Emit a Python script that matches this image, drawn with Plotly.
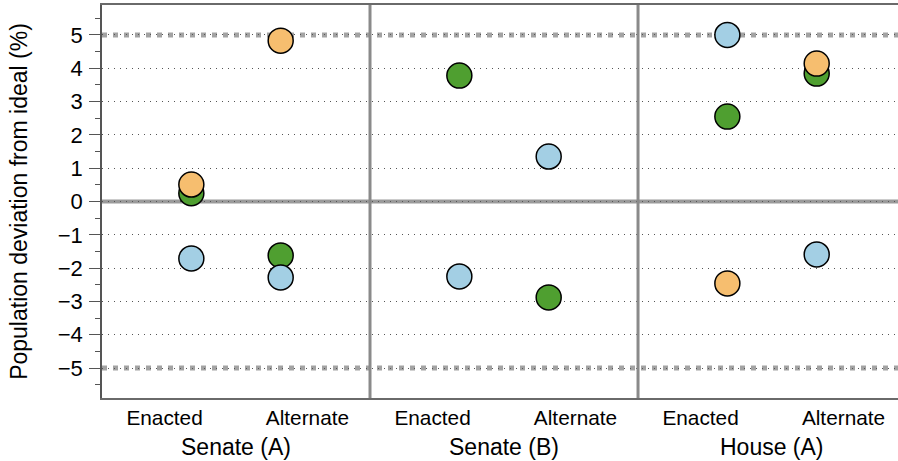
import plotly.graph_objects as go

# ---- data ----
groups = ["Senate (A)", "Senate (B)", "House (A)"]
plans = ["Enacted", "Alternate"]
# x slots: each group spans 3 units; Enacted at 1, Alternate at 2 within group
slot_x = [1, 2, 4, 5, 7, 8]
slot_labels = ["Enacted", "Alternate", "Enacted", "Alternate", "Enacted", "Alternate"]
group_bounds = [3, 6]

# series values (population deviation, %), one per slot (None = absent)
green_vals = [0.25, -1.62, 3.78, -2.88, 2.55, 3.84]
blue_vals = [-1.71, -2.28, -2.25, 1.35, 5.0, -1.59]
orange_vals = [0.51, 4.83, None, None, -2.46, 4.14]

y_ticks = [-5, -4, -3, -2, -1, 0, 1, 2, 3, 4, 5]
limit_lines = [-5, 5]
ideal_line = [0]

# layout: label positions are spread out from the marker columns
label_spread = 0.3
label_x = [x - label_spread if i % 2 == 0 else x + label_spread for i, x in enumerate(slot_x)]
group_centers = [(slot_x[2 * i] + slot_x[2 * i + 1]) / 2 for i in range(len(groups))]

colors = {"green": "#4F9F30", "blue": "#A3CFE4", "orange": "#F6BE6F"}
FONT = "Liberation Sans, Arial, Helvetica, sans-serif"

fig = go.Figure()


def add_series(vals, color):
    xs = [x for x, v in zip(slot_x, vals) if v is not None]
    ys = [v for v in vals if v is not None]
    fig.add_trace(go.Scatter(
        x=xs, y=ys, mode="markers", showlegend=False, hoverinfo="skip",
        marker=dict(size=25, color=color, line=dict(color="black", width=1.5)),
        cliponaxis=False,
    ))


add_series(green_vals, colors["green"])
add_series(blue_vals, colors["blue"])
add_series(orange_vals, colors["orange"])

shapes = []
for yv in ideal_line:
    shapes.append(dict(type="line", xref="paper", x0=0, x1=1, yref="y", y0=yv, y1=yv,
                       line=dict(color="#9a9a9a", width=4), layer="below"))
for yv in limit_lines:
    shapes.append(dict(type="line", xref="paper", x0=0, x1=1, yref="y", y0=yv, y1=yv,
                       line=dict(color="#a3a3a3", width=5, dash="5px,6px"), layer="below"))
for xv in group_bounds:
    shapes.append(dict(type="line", xref="x", x0=xv, x1=xv, yref="paper", y0=0, y1=1,
                       line=dict(color="#8a8a8a", width=3), layer="above"))

annotations = [
    dict(x=c, y=0, xref="x", yref="paper", text=g, showarrow=False,
         yanchor="middle", yshift=-49, font=dict(size=23, family=FONT, color="black"))
    for c, g in zip(group_centers, groups)
]

fig.update_layout(
    width=898, height=461,
    margin=dict(l=102, r=0, t=5, b=63),
    paper_bgcolor="white", plot_bgcolor="white",
    font=dict(family=FONT, color="black"),
    shapes=shapes, annotations=annotations,
    xaxis=dict(
        range=[0, 8.91], tickvals=label_x, ticktext=slot_labels,
        tickfont=dict(size=20.8, family=FONT, color="black"),
        ticks="", showgrid=False, zeroline=False,
        showline=True, linecolor="#6a6a6a", linewidth=1.5, mirror=True,
    ),
    yaxis=dict(
        range=[-5.9, 5.9], tickvals=y_ticks,
        tickfont=dict(size=22, family=FONT, color="black"),
        ticks="outside", ticklen=11, tickcolor="#555", tickwidth=1.3,
        ticklabelstandoff=2,
        minor=dict(dtick=0.5, tick0=0, ticks="outside", ticklen=5, tickcolor="#555", tickwidth=1.3),
        showgrid=True, gridcolor="#555", gridwidth=1, griddash="1px,5px",
        zeroline=False,
        showline=True, linecolor="#555", linewidth=1.5, mirror=False,
        title=dict(text="Population deviation from ideal (%)",
                   font=dict(size=23, family=FONT, color="black"), standoff=24),
    ),
)

fig.write_html("out.html", config={"displayModeBar": False},
               post_script="document.body.style.margin='0px';")
